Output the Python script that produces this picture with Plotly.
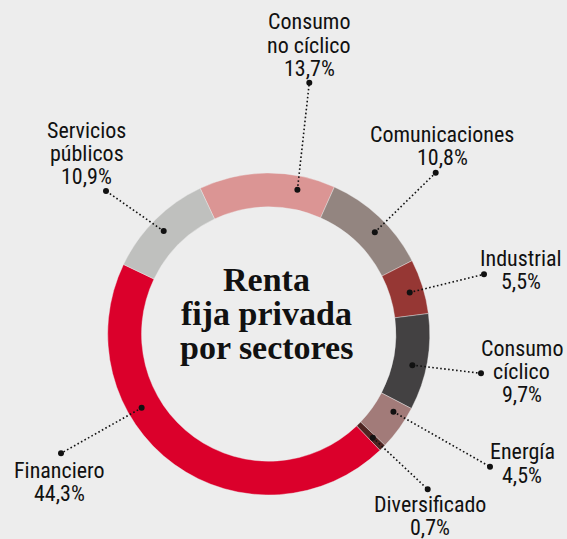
import math
import plotly.graph_objects as go

# ---------------- data ----------------
sectors = ["Consumo no cíclico", "Comunicaciones", "Industrial", "Consumo cíclico",
           "Energía", "Diversificado", "Financiero", "Servicios públicos"]
shares = [13.7, 10.8, 5.5, 9.7, 4.5, 0.7, 44.3, 10.9]
name_lines = [["Consumo", "no cíclico"], ["Comunicaciones"], ["Industrial"],
              ["Consumo", "cíclico"], ["Energía"], ["Diversificado"],
              ["Financiero"], ["Servicios", "públicos"]]
title_lines = ["Renta", "fija privada", "por sectores"]

# ---------------- style / layout ----------------
colors = ["#db9594", "#938580", "#963734", "#434142",
          "#a27b79", "#4f2522", "#db002b", "#bfc0be"]
BG = "#ededed"
W, H = 567, 539
CX, CY = 268.7, 334.0      # donut centre (px)
R_OUT = 161.0              # outer radius (px)
HOLE = 0.79
ROT = -25.2                # start angle of first slice (deg, clockwise from 12 o'clock)
R_DOT = 147.0              # radius of leader-line inner dots
LINE_STEP = 23.3           # label line spacing (px)

# label block (centre x, first-line y), leader outer end, anchor fraction in slice
label_xy = [(309, 21.7), (442.3, 134.3), (520.7, 258), (521.7, 348),
            (522.3, 451.7), (430, 504.5), (59, 470), (86.7, 130)]
outer_dot = [(309.3, 82.7), (435.7, 172.7), (484, 274.3), (481, 373.3),
             (490, 466.7), (427.7, 489.3), (61, 453.3), (106, 191)]
anchor_frac = [0.74, 0.57, 0.54, 0.56, 0.27, 0.45, 0.65, 0.48]

LABEL_FONT = dict(family="Liberation Sans Narrow, Roboto Condensed, DejaVu Sans Condensed, Roboto",
                  size=22, color="#111111")
TITLE_FONT = dict(family="Liberation Serif, Times New Roman, serif", size=34, color="#111111")


def px(x):
    return x / W


def py(y):
    return 1 - y / H


fig = go.Figure()
fig.add_trace(go.Pie(
    values=shares, labels=sectors, sort=False, direction="clockwise",
    rotation=ROT, hole=HOLE, textinfo="none", showlegend=False,
    marker=dict(colors=colors, line=dict(color="rgba(237,237,237,0.5)", width=0.8)),
    domain=dict(x=[px(CX - R_OUT), px(CX + R_OUT)],
                y=[py(CY + R_OUT), py(CY - R_OUT)]),
    hovertemplate="%{label}: %{value}%<extra></extra>",
))

shapes = []
annotations = []
total = sum(shares)
cum = 0.0
for i, v in enumerate(shares):
    a0 = ROT + cum / total * 360
    ang = math.radians(a0 + anchor_frac[i] * v / total * 360)
    cum += v
    ix, iy = CX + R_DOT * math.sin(ang), CY - R_DOT * math.cos(ang)
    ox, oy = outer_dot[i]
    shapes.append(dict(type="line", xref="paper", yref="paper", layer="above",
                       x0=px(ix), y0=py(iy), x1=px(ox), y1=py(oy),
                       line=dict(color="#111111", width=1.6, dash="1.6px,2.4px")))
    for (dx, dy) in [(ix, iy), (ox, oy)]:
        shapes.append(dict(type="circle", xref="paper", yref="paper", layer="above",
                           xsizemode="pixel", ysizemode="pixel",
                           xanchor=px(dx), yanchor=py(dy), x0=-3, x1=3, y0=-3, y1=3,
                           fillcolor="#111111", line=dict(width=0)))
    lines = name_lines[i] + [f"{v:.1f}".replace(".", ",") + "%"]
    lx, ly = label_xy[i]
    for k, t in enumerate(lines):
        annotations.append(dict(text=t, x=px(lx), y=py(ly + k * LINE_STEP),
                                xref="paper", yref="paper", showarrow=False,
                                xanchor="center", yanchor="middle", borderpad=0,
                                font=LABEL_FONT))

for k, t in enumerate(title_lines):
    annotations.append(dict(text=f"<b>{t}</b>", x=px(266.7), y=py(279 + k * 34),
                            xref="paper", yref="paper", showarrow=False,
                            xanchor="center", yanchor="middle", borderpad=0,
                            font=TITLE_FONT))

fig.update_layout(
    width=W, height=H, margin=dict(l=0, r=0, t=0, b=0),
    paper_bgcolor=BG, plot_bgcolor=BG,
    shapes=shapes, annotations=annotations,
)

fig.write_html("out.html", config={"displayModeBar": False},
               post_script="document.body.style.margin='0';document.body.style.overflow='hidden';")
